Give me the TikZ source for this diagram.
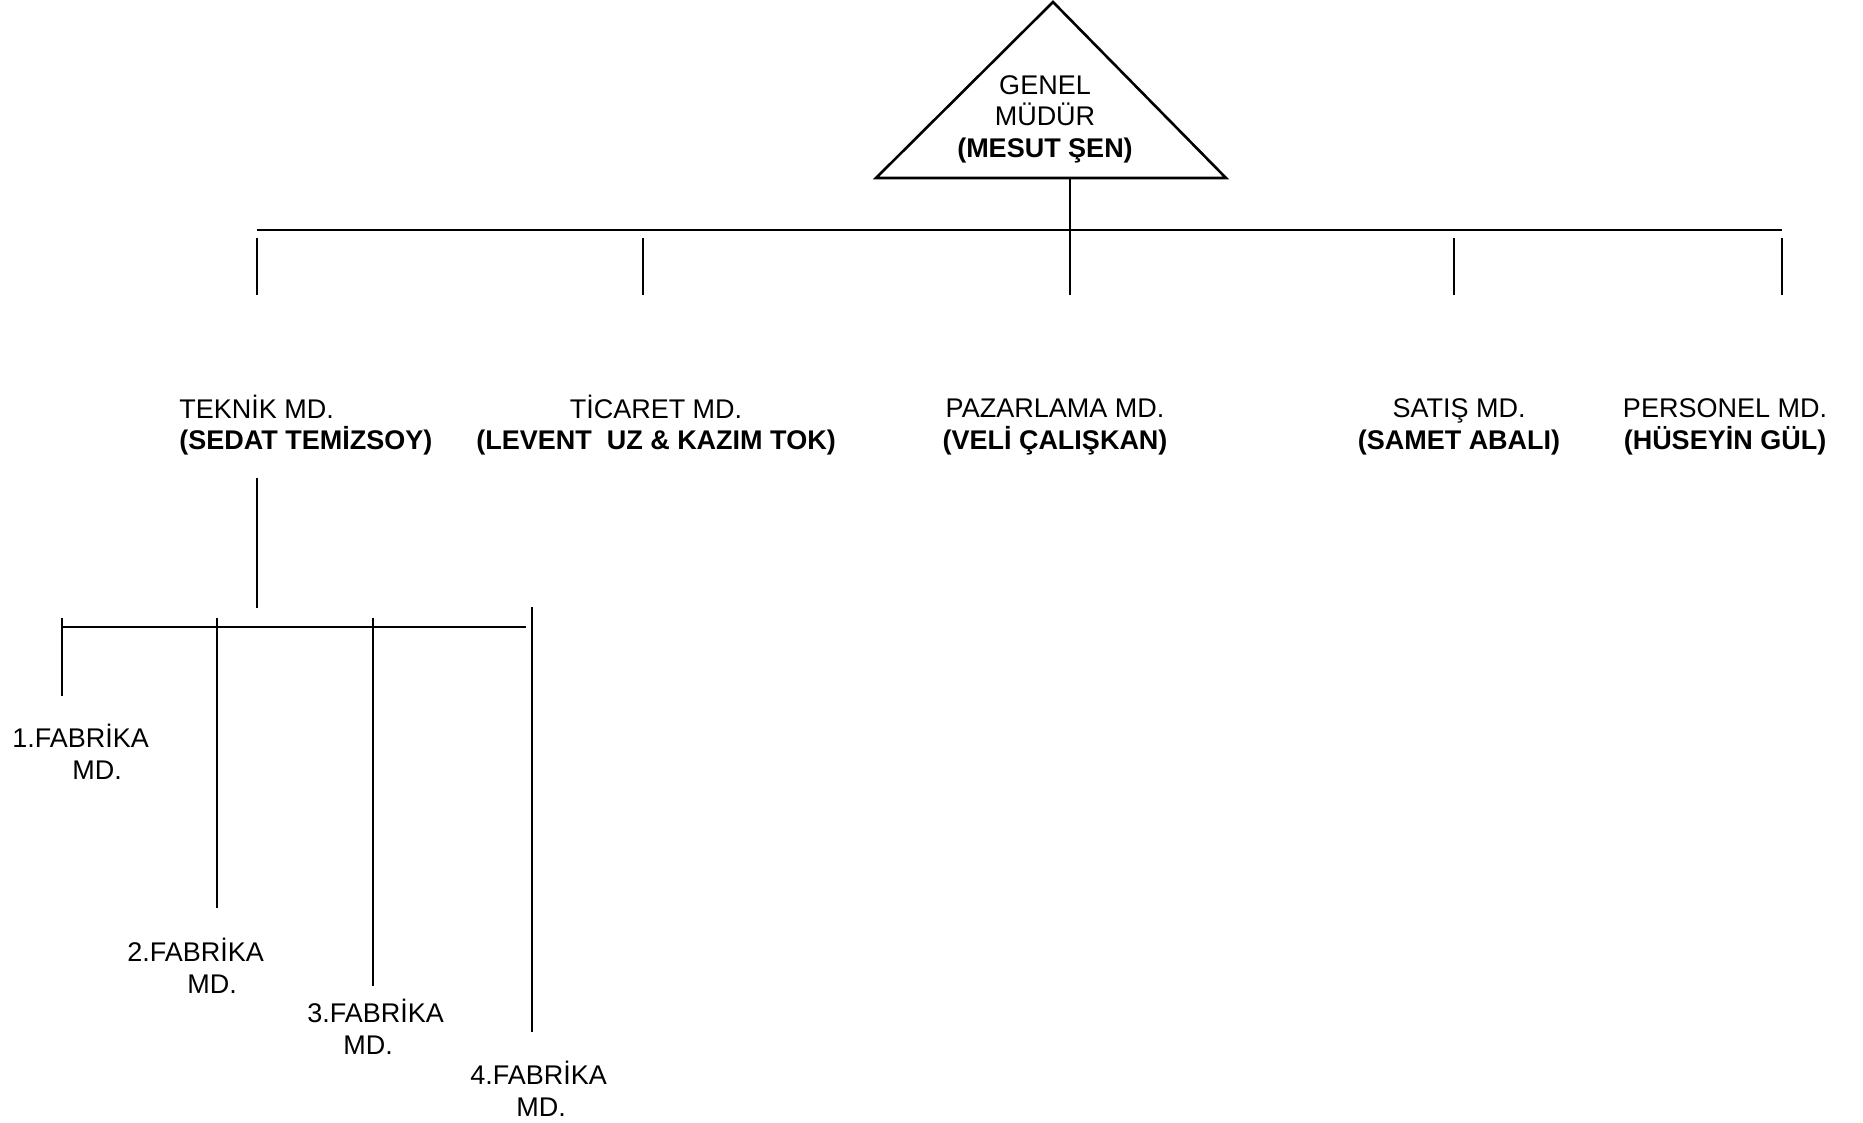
\documentclass[tikz,border=0pt]{standalone}
\usepackage{fontspec}
\setmainfont{Liberation Sans}
\begin{document}
\begin{tikzpicture}[x=0.5pt,y=-0.5pt,
  ln/.style={line width=1.3pt,black},
  lbl/.style={font=\fontsize{13.5}{15.75}\selectfont,inner sep=0pt,align=center},
  lbll/.style={font=\fontsize{13.5}{15.75}\selectfont,inner sep=0pt,align=left,anchor=west}]
\useasboundingbox[fill=white] (0,0) rectangle (1863,1123);
% coordinates
\coordinate (apex) at (1053,2);
\coordinate (bl) at (876,178);
\coordinate (br) at (1226,178);
\coordinate (gmb) at (1070,178);
\coordinate (busL) at (257,230);
\coordinate (busR) at (1782,230);
\foreach \n/\x in {d1/257,d2/643,d4/1454,d5/1782}{
  \coordinate (\n t) at (\x,238);
  \coordinate (\n b) at (\x,295);
}
\coordinate (d3b) at (1070,295);
\coordinate (tkt) at (257,478);
\coordinate (tkb) at (257,608);
\coordinate (sbL) at (62,627);
\coordinate (sbR) at (526,627);
\coordinate (f1t) at (62,618);  \coordinate (f1b) at (62,696);
\coordinate (f2t) at (217,618); \coordinate (f2b) at (217,908);
\coordinate (f3t) at (373,618); \coordinate (f3b) at (373,986);
\coordinate (f4t) at (532,607); \coordinate (f4b) at (532,1032);
% triangle
\draw[ln,line join=miter] (apex) -- (br) -- (bl) -- cycle;
\node[lbl] (gm) at (1045,119) {GENEL\\MÜDÜR\\\textbf{(MESUT ŞEN)}};
% top level
\draw[ln] (gmb) -- (d3b);
\draw[ln] (busL) -- (busR);
\foreach \n in {d1,d2,d4,d5}{\draw[ln] (\n t) -- (\n b);}
% managers
\node[lbll] (tek) at (179,425) {TEKNİK MD.\\\textbf{(SEDAT TEMİZSOY)}};
\node[lbl] (tic) at (656,425) {TİCARET MD.\\\textbf{(LEVENT\ \ UZ \& KAZIM TOK)}};
\node[lbl] (paz) at (1055,427) {PAZARLAMA MD.\\\textbf{(VELİ ÇALIŞKAN)}};
\node[lbl] (sat) at (1459,427) {SATIŞ MD.\\\textbf{(SAMET ABALI)}};
\node[lbl] (per) at (1725,427) {PERSONEL MD.\\\textbf{(HÜSEYİN GÜL)}};
% teknik subtree
\draw[ln] (tkt) -- (tkb);
\draw[ln] (sbL) -- (sbR);
\foreach \n in {f1,f2,f3,f4}{\draw[ln] (\n t) -- (\n b);}
\node[lbll] (fab1) at (12,752) {1.FABRİKA\\\hspace*{30pt}MD.};
\node[lbll] (fab2) at (127,966) {2.FABRİKA\\\hspace*{30pt}MD.};
\node[lbll] (fab3) at (307,1027) {3.FABRİKA\\\hspace*{18pt}MD.};
\node[lbll] (fab4) at (470,1089) {4.FABRİKA\\\hspace*{23pt}MD.};
\end{tikzpicture}
\end{document}
